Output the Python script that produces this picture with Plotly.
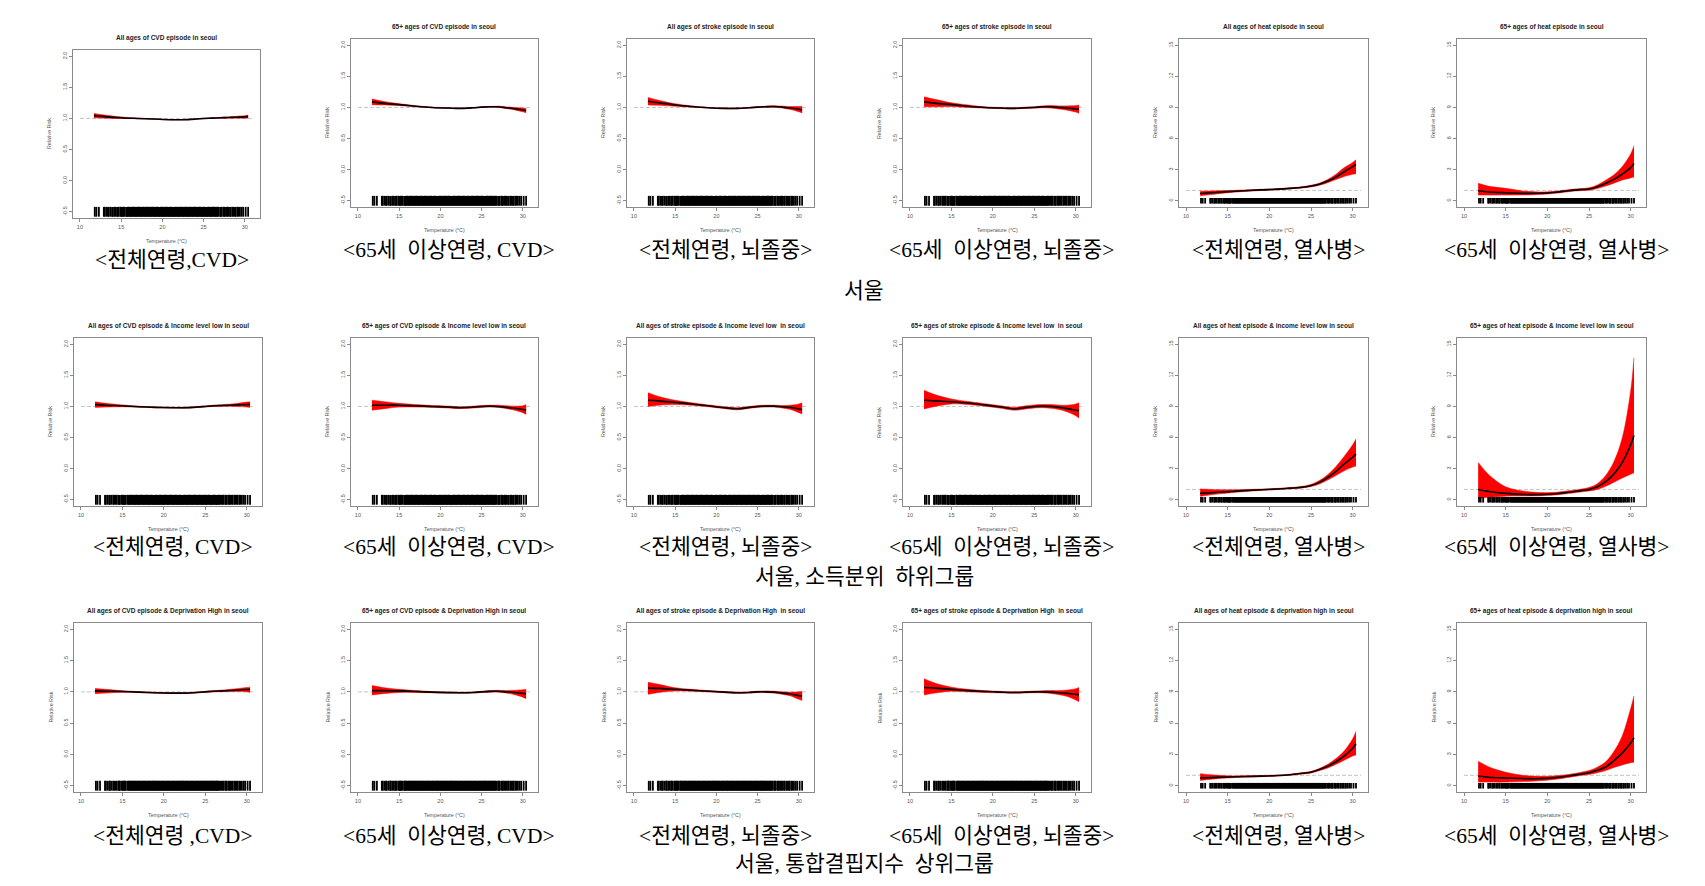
import plotly.graph_objects as go

W, H = 1705, 886

# ---------------- data ----------------
temp_knots = [11.7, 13, 15, 17, 19, 21, 22.5, 24, 25, 26, 27, 28, 29, 30, 30.4]

rug_temps = [11.8, 12.0, 12.3, 12.9, 13.0, 13.2, 13.4, 13.5, 13.7, 13.9, 14.0, 14.2, 14.3, 14.5,
             14.6, 14.7, 14.9, 15.0, 15.1, 15.2, 15.3, 15.4, 15.6, 15.7, 15.8, 15.9, 16.0, 16.1,
             16.2, 16.3, 16.4, 16.5, 16.6, 16.7, 16.8, 16.9, 17.0, 17.1, 17.2, 17.3, 17.4, 17.5,
             17.6, 17.7, 17.8, 17.9, 18.0, 18.1, 18.2, 18.3, 18.4, 18.5, 18.6, 18.7, 18.8, 18.9,
             19.0, 19.1, 19.2, 19.3, 19.4, 19.5, 19.6, 19.7, 19.8, 19.9, 20.0, 20.1, 20.2, 20.3,
             20.4, 20.5, 20.6, 20.7, 20.8, 20.9, 21.0, 21.1, 21.2, 21.3, 21.4, 21.5, 21.6, 21.7,
             21.8, 21.9, 22.0, 22.1, 22.2, 22.3, 22.4, 22.5, 22.6, 22.7, 22.8, 22.9, 23.0, 23.1,
             23.2, 23.3, 23.4, 23.5, 23.6, 23.7, 23.8, 23.9, 24.0, 24.1, 24.2, 24.3, 24.4, 24.5,
             24.6, 24.7, 24.8, 24.9, 25.0, 25.1, 25.2, 25.3, 25.4, 25.5, 25.6, 25.7, 25.8, 25.9,
             26.0, 26.1, 26.2, 26.3, 26.4, 26.5, 26.6, 26.7, 26.8, 27.0, 27.1, 27.2, 27.4, 27.5,
             27.6, 27.8, 27.9, 28.0, 28.2, 28.3, 28.5, 28.6, 28.8, 28.9, 29.1, 29.2, 29.4, 29.6,
             29.8, 30.1, 30.4]

# Row 1 : Seoul
cvd_all_fit = [1.045, 1.03, 1.012, 1.0, 0.99, 0.98, 0.98, 0.99, 1.0, 1.005, 1.01, 1.015, 1.02, 1.025, 1.03]
cvd_all_lo = [1.01, 1.005, 1.0, 0.995, 0.987, 0.977, 0.977, 0.987, 0.996, 1.0, 1.003, 1.005, 1.005, 1.005, 1.005]
cvd_all_hi = [1.08, 1.055, 1.024, 1.005, 0.993, 0.983, 0.983, 0.993, 1.004, 1.01, 1.017, 1.025, 1.035, 1.045, 1.055]

cvd_65_fit = [1.09, 1.07, 1.045, 1.02, 1.0, 0.99, 0.985, 0.995, 1.005, 1.01, 1.01, 0.995, 0.98, 0.96, 0.95]
cvd_65_lo = [1.045, 1.04, 1.03, 1.012, 0.995, 0.985, 0.98, 0.99, 1.0, 1.005, 1.0, 0.982, 0.96, 0.93, 0.915]
cvd_65_hi = [1.135, 1.1, 1.06, 1.028, 1.005, 0.995, 0.99, 1.0, 1.01, 1.015, 1.02, 1.008, 1.0, 0.99, 0.985]

str_all_fit = [1.1, 1.075, 1.04, 1.015, 0.995, 0.985, 0.985, 0.995, 1.005, 1.012, 1.015, 1.005, 0.99, 0.97, 0.96]
str_all_lo = [1.04, 1.035, 1.02, 1.005, 0.99, 0.978, 0.978, 0.99, 0.998, 1.003, 1.003, 0.99, 0.965, 0.93, 0.91]
str_all_hi = [1.16, 1.115, 1.06, 1.025, 1.0, 0.992, 0.992, 1.0, 1.012, 1.02, 1.027, 1.02, 1.015, 1.015, 1.02]

str_65_fit = [1.09, 1.07, 1.045, 1.02, 1.0, 0.99, 0.985, 0.995, 1.0, 1.01, 1.01, 1.0, 0.99, 0.975, 0.97]
str_65_lo = [1.01, 1.01, 1.015, 1.0, 0.99, 0.98, 0.975, 0.985, 0.99, 0.995, 0.99, 0.975, 0.955, 0.925, 0.905]
str_65_hi = [1.17, 1.13, 1.075, 1.04, 1.01, 1.0, 0.995, 1.005, 1.01, 1.025, 1.03, 1.025, 1.025, 1.03, 1.04]

heat_all_fit = [0.7, 0.78, 0.88, 0.97, 1.05, 1.12, 1.2, 1.3, 1.42, 1.6, 1.9, 2.3, 2.8, 3.3, 3.5]
heat_all_lo = [0.48, 0.6, 0.78, 0.9, 0.99, 1.07, 1.15, 1.24, 1.34, 1.5, 1.75, 2.05, 2.35, 2.55, 2.6]
heat_all_hi = [0.93, 0.95, 0.98, 1.04, 1.11, 1.17, 1.25, 1.36, 1.5, 1.7, 2.05, 2.55, 3.2, 3.7, 3.95]

heat_65_fit = [0.97, 0.85, 0.77, 0.72, 0.72, 0.82, 0.97, 1.08, 1.13, 1.35, 1.68, 2.06, 2.58, 3.2, 3.6]
heat_65_lo = [0.55, 0.55, 0.55, 0.56, 0.6, 0.72, 0.87, 0.98, 1.02, 1.18, 1.42, 1.7, 2.0, 2.2, 2.3]
heat_65_hi = [1.68, 1.4, 1.2, 0.95, 0.85, 0.92, 1.07, 1.18, 1.25, 1.53, 1.98, 2.5, 3.3, 4.5, 5.3]

# Row 2 : Seoul, income low
cvd_all_inc_fit = [1.03, 1.02, 1.01, 0.995, 0.985, 0.98, 0.98, 0.99, 1.0, 1.01, 1.015, 1.02, 1.025, 1.03, 1.03]
cvd_all_inc_lo = [0.985, 0.99, 0.995, 0.988, 0.978, 0.973, 0.972, 0.983, 0.992, 1.0, 1.003, 1.003, 0.998, 0.99, 0.985]
cvd_all_inc_hi = [1.075, 1.05, 1.025, 1.002, 0.992, 0.987, 0.988, 0.997, 1.008, 1.02, 1.027, 1.037, 1.052, 1.07, 1.075]

cvd_65_inc_fit = [1.02, 1.02, 1.02, 1.01, 1.0, 0.99, 0.98, 0.99, 1.0, 1.005, 1.0, 0.985, 0.97, 0.95, 0.94]
cvd_65_inc_lo = [0.94, 0.96, 0.99, 0.99, 0.985, 0.975, 0.965, 0.975, 0.985, 0.99, 0.985, 0.965, 0.94, 0.9, 0.87]
cvd_65_inc_hi = [1.1, 1.08, 1.05, 1.03, 1.015, 1.005, 0.995, 1.005, 1.015, 1.02, 1.02, 1.01, 1.005, 1.01, 1.03]

str_all_inc_fit = [1.1, 1.09, 1.065, 1.04, 1.01, 0.98, 0.963, 0.985, 1.0, 1.005, 1.005, 0.995, 0.985, 0.96, 0.95]
str_all_inc_lo = [1.0, 1.02, 1.03, 1.02, 0.995, 0.965, 0.945, 0.97, 0.985, 0.99, 0.99, 0.975, 0.95, 0.9, 0.88]
str_all_inc_hi = [1.22, 1.16, 1.1, 1.06, 1.025, 0.995, 0.98, 1.0, 1.015, 1.02, 1.02, 1.015, 1.02, 1.04, 1.06]

str_65_inc_fit = [1.1, 1.09, 1.075, 1.055, 1.025, 0.99, 0.962, 0.985, 1.0, 1.005, 1.0, 0.985, 0.965, 0.94, 0.93]
str_65_inc_lo = [0.96, 1.0, 1.04, 1.03, 1.005, 0.97, 0.94, 0.96, 0.975, 0.98, 0.97, 0.95, 0.91, 0.85, 0.81]
str_65_inc_hi = [1.26, 1.19, 1.12, 1.08, 1.045, 1.01, 0.985, 1.01, 1.025, 1.03, 1.03, 1.02, 1.02, 1.04, 1.06]

heat_all_inc_fit = [0.62, 0.68, 0.78, 0.88, 0.96, 1.04, 1.12, 1.22, 1.38, 1.68, 2.15, 2.75, 3.45, 4.1, 4.4]
heat_all_inc_lo = [0.33, 0.48, 0.65, 0.8, 0.9, 0.99, 1.06, 1.15, 1.28, 1.52, 1.9, 2.35, 2.8, 3.15, 3.26]
heat_all_inc_hi = [1.04, 1.0, 0.96, 0.98, 1.03, 1.1, 1.18, 1.3, 1.48, 1.85, 2.42, 3.2, 4.2, 5.3, 5.85]

heat_65_inc_fit = [1.0, 0.8, 0.62, 0.52, 0.5, 0.58, 0.72, 0.88, 1.0, 1.25, 1.75, 2.5, 3.6, 5.3, 6.2]
heat_65_inc_lo = [0.15, 0.25, 0.35, 0.36, 0.38, 0.47, 0.6, 0.75, 0.85, 1.0, 1.3, 1.7, 2.1, 2.45, 2.6]
heat_65_inc_hi = [3.6, 2.4, 1.25, 0.85, 0.7, 0.72, 0.86, 1.02, 1.18, 1.55, 2.35, 3.7, 6.0, 10.5, 13.7]

# Row 3 : Seoul, deprivation high
cvd_all_dep_fit = [1.015, 1.01, 1.005, 0.995, 0.985, 0.98, 0.98, 0.99, 1.0, 1.01, 1.015, 1.022, 1.03, 1.037, 1.04]
cvd_all_dep_lo = [0.97, 0.98, 0.993, 0.988, 0.978, 0.973, 0.973, 0.983, 0.992, 1.0, 1.003, 1.005, 1.005, 1.0, 0.99]
cvd_all_dep_hi = [1.055, 1.04, 1.018, 1.003, 0.992, 0.987, 0.987, 0.997, 1.008, 1.02, 1.027, 1.04, 1.055, 1.07, 1.075]

cvd_65_dep_fit = [1.02, 1.02, 1.015, 1.005, 0.995, 0.988, 0.985, 0.99, 1.0, 1.008, 1.01, 1.0, 0.99, 0.975, 0.97]
cvd_65_dep_lo = [0.95, 0.97, 0.99, 0.99, 0.985, 0.98, 0.977, 0.982, 0.99, 0.995, 0.995, 0.98, 0.955, 0.915, 0.89]
cvd_65_dep_hi = [1.1, 1.07, 1.04, 1.02, 1.005, 0.996, 0.993, 0.998, 1.01, 1.02, 1.025, 1.02, 1.025, 1.035, 1.04]

str_all_dep_fit = [1.06, 1.055, 1.04, 1.025, 1.01, 0.995, 0.985, 0.99, 1.0, 1.0, 0.995, 0.98, 0.965, 0.94, 0.93]
str_all_dep_lo = [0.96, 0.99, 1.015, 1.01, 1.0, 0.985, 0.975, 0.98, 0.988, 0.988, 0.98, 0.96, 0.935, 0.88, 0.86]
str_all_dep_hi = [1.155, 1.12, 1.065, 1.04, 1.02, 1.005, 0.995, 1.0, 1.012, 1.015, 1.01, 1.0, 0.995, 1.0, 1.01]

str_65_dep_fit = [1.07, 1.06, 1.04, 1.02, 1.005, 0.995, 0.99, 0.995, 1.0, 1.0, 0.995, 0.985, 0.975, 0.96, 0.955]
str_65_dep_lo = [0.95, 0.98, 1.01, 1.0, 0.99, 0.983, 0.978, 0.983, 0.985, 0.985, 0.975, 0.955, 0.925, 0.87, 0.84]
str_65_dep_hi = [1.21, 1.14, 1.075, 1.04, 1.02, 1.007, 1.0, 1.007, 1.013, 1.018, 1.02, 1.02, 1.03, 1.05, 1.07]

heat_all_dep_fit = [0.74, 0.78, 0.84, 0.88, 0.92, 0.98, 1.06, 1.19, 1.3, 1.55, 1.87, 2.3, 2.86, 3.6, 4.0]
heat_all_dep_lo = [0.5, 0.62, 0.75, 0.82, 0.87, 0.93, 1.01, 1.12, 1.22, 1.45, 1.7, 2.05, 2.45, 2.85, 2.95]
heat_all_dep_hi = [1.16, 1.05, 0.95, 0.95, 0.98, 1.03, 1.11, 1.26, 1.38, 1.66, 2.05, 2.6, 3.35, 4.5, 5.2]

heat_65_dep_fit = [0.93, 0.82, 0.74, 0.69, 0.68, 0.78, 0.93, 1.12, 1.25, 1.48, 1.8, 2.4, 3.15, 4.1, 4.6]
heat_65_dep_lo = [0.35, 0.35, 0.35, 0.4, 0.47, 0.62, 0.8, 0.98, 1.08, 1.25, 1.45, 1.75, 2.0, 2.2, 2.25]
heat_65_dep_hi = [2.35, 1.8, 1.3, 1.0, 0.9, 0.95, 1.08, 1.28, 1.45, 1.78, 2.3, 3.3, 4.8, 7.4, 8.6]

panel_titles = [
    "All ages of CVD episode in seoul", "65+ ages of CVD episode in seoul",
    "All ages of stroke episode in seoul", "65+ ages of stroke episode in seoul",
    "All ages of heat episode in seoul", "65+ ages of heat episode in seoul",
    "All ages of CVD episode & Income level low in seoul", "65+ ages of CVD episode & Income level low in seoul",
    "All ages of stroke episode & Income level low  in seoul", "65+ ages of stroke episode & Income level low  in seoul",
    "All ages of heat episode & income level low in seoul", "65+ ages of heat episode & income level low in seoul",
    "All ages of CVD episode & Deprivation High in seoul", "65+ ages of CVD episode & Deprivation High in seoul",
    "All ages of stroke episode & Deprivation High  in seoul", "65+ ages of stroke episode & Deprivation High  in seoul",
    "All ages of heat episode & deprivation high in seoul", "65+ ages of heat episode & deprivation high in seoul",
]

NB = "\u00a0"
captions = [
    "<전체연령,CVD>", "<65세" + NB * 2 + "이상연령," + NB + "CVD>", "<전체연령," + NB + "뇌졸중>",
    "<65세" + NB * 2 + "이상연령," + NB + "뇌졸중>", "<전체연령," + NB + "열사병>",
    "<65세" + NB * 2 + "이상연령," + NB + "열사병>",
    "<전체연령," + NB + "CVD>", "<65세" + NB * 2 + "이상연령," + NB + "CVD>", "<전체연령," + NB + "뇌졸중>",
    "<65세" + NB * 2 + "이상연령," + NB + "뇌졸중>", "<전체연령," + NB + "열사병>",
    "<65세" + NB * 2 + "이상연령," + NB + "열사병>",
    "<전체연령" + NB + ",CVD>", "<65세" + NB * 2 + "이상연령," + NB + "CVD>", "<전체연령," + NB + "뇌졸중>",
    "<65세" + NB * 2 + "이상연령," + NB + "뇌졸중>", "<전체연령," + NB + "열사병>",
    "<65세" + NB * 2 + "이상연령," + NB + "열사병>",
]

group_labels = ["서울", "서울," + NB + "소득분위" + NB * 2 + "하위그룹", "서울," + NB + "통합결핍지수" + NB * 2 + "상위그룹"]

x_ticks = [10, 15, 20, 25, 30]
rr_ticks = [-0.5, 0.0, 0.5, 1.0, 1.5, 2.0]
rr_ticktext = ["-0.5", "0.0", "0.5", "1.0", "1.5", "2.0"]
heat_ticks = [0, 3, 6, 9, 12, 15]

series = [
    (cvd_all_fit, cvd_all_lo, cvd_all_hi), (cvd_65_fit, cvd_65_lo, cvd_65_hi),
    (str_all_fit, str_all_lo, str_all_hi), (str_65_fit, str_65_lo, str_65_hi),
    (heat_all_fit, heat_all_lo, heat_all_hi), (heat_65_fit, heat_65_lo, heat_65_hi),
    (cvd_all_inc_fit, cvd_all_inc_lo, cvd_all_inc_hi), (cvd_65_inc_fit, cvd_65_inc_lo, cvd_65_inc_hi),
    (str_all_inc_fit, str_all_inc_lo, str_all_inc_hi), (str_65_inc_fit, str_65_inc_lo, str_65_inc_hi),
    (heat_all_inc_fit, heat_all_inc_lo, heat_all_inc_hi), (heat_65_inc_fit, heat_65_inc_lo, heat_65_inc_hi),
    (cvd_all_dep_fit, cvd_all_dep_lo, cvd_all_dep_hi), (cvd_65_dep_fit, cvd_65_dep_lo, cvd_65_dep_hi),
    (str_all_dep_fit, str_all_dep_lo, str_all_dep_hi), (str_65_dep_fit, str_65_dep_lo, str_65_dep_hi),
    (heat_all_dep_fit, heat_all_dep_lo, heat_all_dep_hi), (heat_65_dep_fit, heat_65_dep_lo, heat_65_dep_hi),
]

# ---------------- layout geometry (pixels) ----------------
col_x = [(74, 262), (351, 538), (627, 814), (903, 1091), (1179, 1368), (1457, 1646)]
row_y = [(39, 207), (338, 506), (623, 792)]
caption_y = [250, 547, 836]
group_y = [291, 577, 864]


def fx(p):
    return p / W


def fy(p):
    return 1 - p / H


SANS = "Liberation Sans, Arial, sans-serif"
CAP_FONT = "Liberation Serif, Noto Sans CJK KR, serif"

fig = go.Figure()
layout = dict(
    width=W, height=H, margin=dict(l=0, r=0, t=0, b=0),
    paper_bgcolor="white", plot_bgcolor="white", showlegend=False,
)
annotations = []

for i in range(18):
    r, c = divmod(i, 6)
    x0, x1 = col_x[c]
    y0, y1 = row_y[r]
    if i == 0:
        x0, x1, y0, y1 = 73, 260, 50, 218
    heat = c >= 4
    n = i + 1
    xa = "x" if n == 1 else f"x{n}"
    ya = "y" if n == 1 else f"y{n}"
    fit, lo, hi = series[i]

    # reference line at RR = 1
    fig.add_trace(go.Scatter(x=[10, 31], y=[1, 1], mode="lines", xaxis=xa, yaxis=ya,
                             line=dict(color="#c4c4c4", width=1, dash="4px,2px"), hoverinfo="skip"))
    # confidence band
    fig.add_trace(go.Scatter(x=temp_knots, y=lo, mode="lines", xaxis=xa, yaxis=ya,
                             line=dict(color="#ff0000", width=0.5, shape="spline", smoothing=1.0),
                             hoverinfo="skip"))
    fig.add_trace(go.Scatter(x=temp_knots, y=hi, mode="lines", xaxis=xa, yaxis=ya, fill="tonexty",
                             fillcolor="#ff0000",
                             line=dict(color="#ff0000", width=0.5, shape="spline", smoothing=1.0),
                             hoverinfo="skip"))
    # fitted curve
    fig.add_trace(go.Scatter(x=temp_knots, y=fit, mode="lines", xaxis=xa, yaxis=ya,
                             line=dict(color="black", width=1.6, shape="spline", smoothing=1.0),
                             hoverinfo="skip"))
    # rug
    rug_y = 0.0 if heat else -0.5
    fig.add_trace(go.Scatter(x=rug_temps, y=[rug_y] * len(rug_temps), mode="markers",
                             xaxis=xa, yaxis=ya,
                             marker=dict(symbol="line-ns", size=4 if heat else 7,
                                         line=dict(color="#000", width=1.8)),
                             hoverinfo="skip"))

    axis_common = dict(
        showgrid=False, zeroline=False, showline=True, linecolor="#8a8a8a", linewidth=1,
        mirror=True, ticks="outside", ticklen=3, tickwidth=1, tickcolor="#8a8a8a",
        tickfont=dict(family=SANS, size=5.5, color="#555"),
    )
    layout["xaxis" if n == 1 else f"xaxis{n}"] = dict(
        axis_common, domain=[fx(x0), fx(x1)], range=[9.16, 31.84], tickvals=x_ticks,
        anchor=ya,
    )
    if heat:
        ycfg = dict(range=[-0.6, 15.6], tickvals=heat_ticks, ticktext=[str(t) for t in heat_ticks])
    else:
        ycfg = dict(range=[-0.6, 2.1], tickvals=rr_ticks, ticktext=rr_ticktext)
    layout["yaxis" if n == 1 else f"yaxis{n}"] = dict(
        axis_common, domain=[fy(y1), fy(y0)], tickangle=-90, anchor=xa, **ycfg,
    )

    xc = (x0 + x1) / 2
    yc = (y0 + y1) / 2
    # panel title
    annotations.append(dict(text="<b>" + panel_titles[i] + "</b>", x=fx(xc), y=fy(y0 - 12),
                            xref="paper", yref="paper", showarrow=False, xanchor="center",
                            yanchor="middle", font=dict(family=SANS, size=6.5, color="#222")))
    # axis titles
    annotations.append(dict(text="Temperature (°C)", x=fx(xc), y=fy(y1 + 23),
                            xref="paper", yref="paper", showarrow=False, xanchor="center",
                            yanchor="middle", font=dict(family=SANS, size=5.3, color="#555")))
    annotations.append(dict(text="Relative Risk", x=fx(x0 - 24), y=fy(yc), textangle=-90,
                            xref="paper", yref="paper", showarrow=False, xanchor="center",
                            yanchor="middle", font=dict(family=SANS, size=5.3, color="#555")))
    # caption
    cy = 260 if i == 0 else caption_y[r]
    annotations.append(dict(text=captions[i], x=fx(xc + 5), y=fy(cy),
                            xref="paper", yref="paper", showarrow=False, xanchor="center",
                            yanchor="middle", font=dict(family=CAP_FONT, size=21.5, color="black")))

for r in range(3):
    annotations.append(dict(text=group_labels[r], x=fx(864), y=fy(group_y[r]),
                            xref="paper", yref="paper", showarrow=False, xanchor="center",
                            yanchor="middle", font=dict(family=CAP_FONT, size=21.5, color="black")))

layout["annotations"] = annotations
fig.update_layout(**layout)
fig.write_html("out.html")
